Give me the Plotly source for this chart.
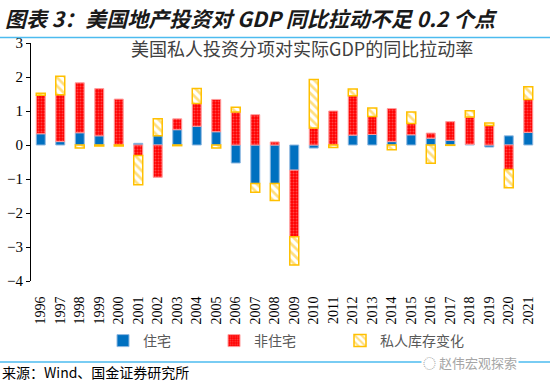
import plotly.graph_objects as go

years = [str(y) for y in range(1996, 2022)]
residential = [0.33, 0.10, 0.36, 0.27, 0.00, 0.05, 0.27, 0.45, 0.55, 0.39, -0.53, -1.13, -1.13,
               -0.74, -0.09, 0.00, 0.29, 0.31, 0.10, 0.30, 0.20, 0.14, 0.02, -0.06, 0.27, 0.37]
nonresidential = [1.13, 1.38, 1.47, 1.39, 1.35, -0.31, -0.95, 0.32, 0.67, 0.95, 0.97, 0.89, 0.09,
                  -1.96, 0.50, 1.00, 1.16, 0.53, 0.97, 0.33, 0.15, 0.55, 0.80, 0.57, -0.72, 0.97]
inventory = [0.06, 0.54, -0.09, -0.03, -0.03, -0.86, 0.50, -0.02, 0.44, -0.09, 0.14, -0.26, -0.50,
             -0.83, 1.43, -0.07, 0.20, 0.25, -0.14, 0.34, -0.54, -0.01, 0.19, 0.08, -0.54, 0.37]
y_ticks = [3, 2, 1, 0, -1, -2, -3, -4]
series_names = ["住宅", "非住宅", "私人库存变化"]

W, H = 550, 383
L, R, T, B = 31, 12, 43, 102
PW, PH = W - L - R, H - T - B


def px(x):
    return (x - L) / PW


def py(y):
    return (H - B - y) / PH


fig = go.Figure()
fig.add_trace(go.Bar(
    x=years, y=residential, name=series_names[0], legend="legend",
    marker=dict(color="#0070C0", line=dict(color="#8FB8E0", width=1)),
))
fig.add_trace(go.Bar(
    x=years, y=nonresidential, name=series_names[1], legend="legend2",
    marker=dict(color="#FF0000", line=dict(color="#FF9C9C", width=1),
                pattern=dict(shape=".", bgcolor="#FF0000", fgcolor="#FF8A8A", size=3, solidity=0.35)),
))
fig.add_trace(go.Bar(
    x=years, y=inventory, name=series_names[2], legend="legend3",
    marker=dict(color="#FFC000", line=dict(color="#FFC000", width=1.5),
                pattern=dict(shape="\\", bgcolor="white", fgcolor="#FFC000", size=6, solidity=0.45)),
))

legend_font = dict(family="Noto Sans CJK SC", size=14, color="#595959")


def leg(xpix):
    return dict(orientation="h", x=px(xpix), y=py(341), xanchor="left", yanchor="middle",
                font=legend_font, itemwidth=30, bgcolor="rgba(0,0,0,0)")


ymin, ymax = -4, 3
fig.update_layout(
    width=W, height=H,
    margin=dict(l=L, r=R, t=T, b=B, autoexpand=False),
    paper_bgcolor="white", plot_bgcolor="white",
    barmode="relative", bargap=0.54,
    showlegend=True,
    legend=leg(103),
    legend2=leg(214),
    legend3=leg(340),
    xaxis=dict(type="category", range=[-0.5, 25.5], showline=False, showgrid=False,
               zeroline=False, tickangle=-90, ticks="outside", ticklen=9,
               tickcolor="rgba(0,0,0,0)",
               tickfont=dict(family="Liberation Serif", size=14, color="#000000")),
    xaxis2=dict(overlaying="x", anchor="free", position=(0 - ymin) / (ymax - ymin),
                range=[-0.5, 25.5], showgrid=False, zeroline=False, showline=True,
                linecolor="#000000", linewidth=1, ticks="outside", ticklen=5,
                tickcolor="#000000", tickvals=[i - 0.5 for i in range(27)],
                showticklabels=False, side="bottom"),
    yaxis=dict(range=[ymin, ymax], tickvals=y_ticks, showgrid=False, zeroline=False,
               showline=True, linecolor="#000000", linewidth=1, ticks="outside",
               ticklen=4, tickcolor="#000000",
               tickfont=dict(family="Liberation Serif", size=15, color="#000000")),
    font=dict(family="Noto Sans CJK SC"),
)

fig.add_annotation(
    xref="paper", yref="paper", x=px(3), y=py(18), xanchor="left", yanchor="middle",
    text="<b><i>图表 3：美国地产投资对 GDP 同比拉动不足 0.2 个点</i></b>",
    showarrow=False, font=dict(family="Noto Sans CJK SC", size=21, color="#1a1a1a"),
)
fig.add_annotation(
    xref="paper", yref="paper", x=px(302), y=py(48), xanchor="center", yanchor="middle",
    text="美国私人投资分项对实际GDP的同比拉动率",
    showarrow=False, font=dict(family="Noto Sans CJK SC", size=18, color="#404040"),
)
fig.add_annotation(
    xref="paper", yref="paper", x=px(0), y=py(372), xanchor="left", yanchor="middle",
    text="来源：Wind、国金证券研究所",
    showarrow=False, font=dict(family="Noto Sans CJK SC", size=14, color="#000000"),
)
fig.add_shape(type="line", xref="paper", yref="paper", x0=px(0), x1=px(550),
              y0=py(37.5), y1=py(37.5), line=dict(color="#4DBBEF", width=1.5))
fig.add_shape(type="line", xref="paper", yref="paper", x0=px(0), x1=px(550),
              y0=py(362), y1=py(362), line=dict(color="#4DBBEF", width=1.5))
fig.add_annotation(
    xref="paper", yref="paper", x=px(470), y=py(362), xanchor="center", yanchor="middle",
    text="◌ 赵伟宏观探索", bgcolor="white",
    showarrow=False, font=dict(family="Noto Sans CJK SC", size=13, color="#A6A6A6"),
)

fig.write_html("out.html", config={"displayModeBar": False},
               post_script="document.body.style.margin='0';")
